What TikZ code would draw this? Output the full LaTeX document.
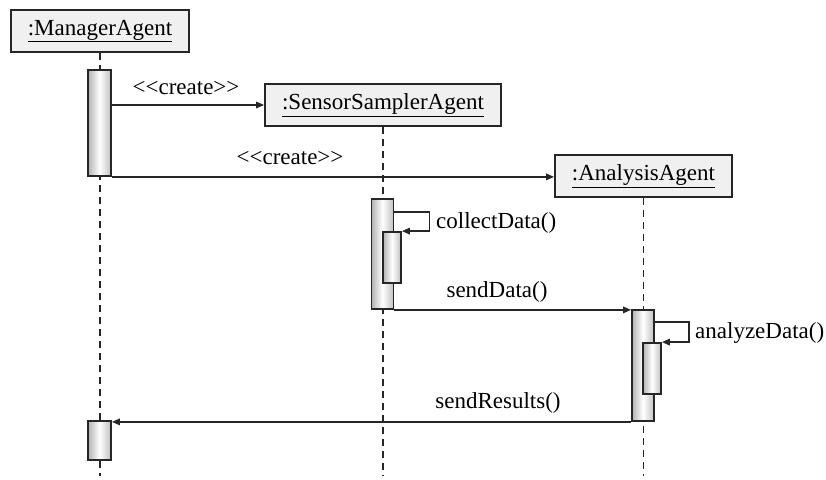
\documentclass[tikz,border=0pt]{standalone}
\usepackage{fontspec}
\setmainfont{Liberation Serif}
\usetikzlibrary{arrows.meta,calc}
\definecolor{edge}{HTML}{262626}
\tikzset{
  objbox/.style={draw=edge, line width=1.8pt, fill=black!6, minimum height=42pt, inner sep=0pt, font=\fontsize{23}{27}\selectfont},
  actbar/.style={draw=edge, line width=1.8pt, left color=black!30, right color=black!25, middle color=white, inner sep=0pt},
  lifeline/.style={draw=edge, line width=1.8pt, dash pattern=on 7pt off 5pt},
  msg/.style={draw=edge, line width=1.6pt, -{Triangle[length=8pt,width=6.5pt]}},
  lbl/.style={font=\fontsize{23}{27}\selectfont, inner sep=0pt, text=black}
}
\begin{document}
\begin{tikzpicture}[x=1pt,y=-1pt]
\useasboundingbox (0,0) rectangle (826,479);
% object boxes
\node[objbox, minimum width=178pt] (mgr) at (100,31) {\underline{:ManagerAgent}};
\node[objbox, minimum width=236pt] (ssa) at (383,105) {\underline{:SensorSamplerAgent}};
\node[objbox, minimum width=177pt] (ana) at (643.5,176) {\underline{:AnalysisAgent}};
% lifeline ends
\coordinate (mgrend) at (100,476);
\coordinate (ssaend) at (383,476);
\coordinate (anaend) at (643.5,476);
\draw[lifeline] (mgr.south) -- (mgrend);
\draw[lifeline] (ssa.south) -- (ssaend);
\draw[lifeline] (ana.south) -- (anaend);
% activation bars
\node[actbar, minimum width=23pt, minimum height=106pt] (mbar1) at (99.5,123) {};
\node[actbar, minimum width=22pt, minimum height=110pt] (sbar) at (382.5,254) {};
\node[actbar, minimum width=18pt, minimum height=51pt] (snest) at (392,257.5) {};
\node[actbar, minimum width=22pt, minimum height=111pt] (abar) at (643,365.5) {};
\node[actbar, minimum width=18pt, minimum height=51pt] (anest) at (652,368.5) {};
\node[actbar, minimum width=23pt, minimum height=39pt] (mbar2) at (99.5,440.5) {};
% messages
\draw[msg] (ssa.west -| mbar1.east) -- (ssa.west);
\draw[msg] (mbar1.south east) -- (mbar1.south east -| ana.west);
\draw[msg] ($(sbar.north east)+(0,14)$) -- ++(35,0) |- (snest.north east);
\draw[msg] (sbar.south east) -- (sbar.south east -| abar.west);
\draw[msg] ($(abar.north east)+(0,13)$) -- ++(34,0) |- (anest.north east);
\draw[msg] (abar.south west) -- (abar.south west -| mbar2.east);
% labels
\node[lbl] (l1) at (186,88) {<{}<create>{}>};
\node[lbl] (l2) at (290,158) {<{}<create>{}>};
\node[lbl, anchor=west] (l3) at (436,223) {collectData()};
\node[lbl] (l4) at (497,292) {sendData()};
\node[lbl, anchor=west] (l5) at (695,333) {analyzeData()};
\node[lbl] (l6) at (498,403) {sendResults()};
\end{tikzpicture}
\end{document}
